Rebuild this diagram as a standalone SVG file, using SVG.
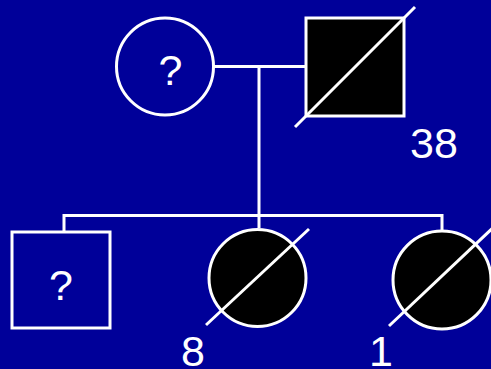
<svg xmlns="http://www.w3.org/2000/svg" width="491" height="369" viewBox="0 0 491 369">
<style>
.ln{stroke:#fff;stroke-width:3;fill:none}
.sym{stroke:#fff;stroke-width:3}
.open{fill:#000099}
.aff{fill:#000}
.t{fill:#fff;font-family:"Liberation Sans",Arial,sans-serif;font-size:43px}
</style>
<rect width="491" height="369" fill="#000099"/>
<g id="connectors">
<line class="ln" x1="213" y1="66.5" x2="306" y2="66.5"/>
<line class="ln" x1="259" y1="66.5" x2="259" y2="215.5"/>
<polyline class="ln" points="64,232 64,215.5 442,215.5 442,230"/>
<line class="ln" x1="259" y1="215.5" x2="259" y2="228"/>
</g>
<g id="mother">
<circle class="sym open" cx="165" cy="66.5" r="48.5"/>
<text class="t" x="170.5" y="85" text-anchor="middle">?</text>
</g>
<g id="father">
<rect class="sym aff" x="306" y="18" width="98" height="98"/>
<line class="ln" x1="295" y1="127" x2="415" y2="7"/>
<text class="t" x="410" y="158">38</text>
</g>
<g id="son">
<rect class="sym open" x="12" y="232" width="98" height="96"/>
<text class="t" x="61" y="300" text-anchor="middle">?</text>
</g>
<g id="daughter1">
<circle class="sym aff" cx="257.5" cy="278" r="48.5"/>
<line class="ln" x1="206" y1="325" x2="309" y2="229"/>
<text class="t" x="181" y="366">8</text>
</g>
<g id="daughter2">
<circle class="sym aff" cx="442" cy="280" r="49"/>
<line class="ln" x1="389" y1="326" x2="497" y2="224"/>
<text class="t" x="369" y="366">1</text>
</g>
</svg>
